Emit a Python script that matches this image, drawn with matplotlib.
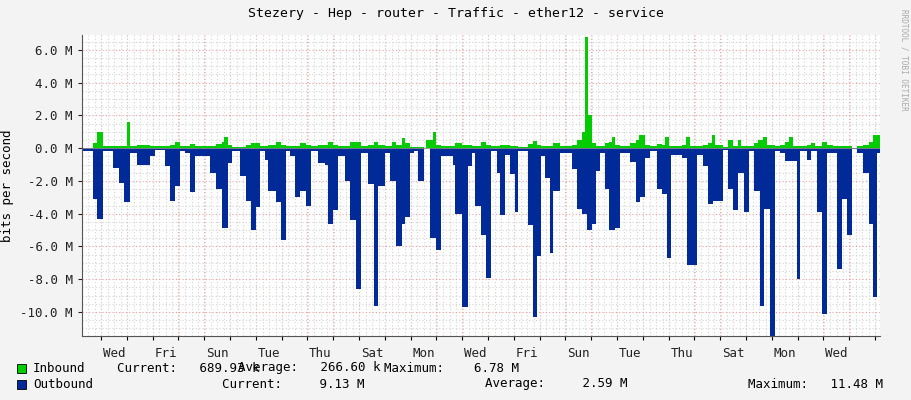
import numpy as np
import matplotlib
matplotlib.use("Agg")
import matplotlib.pyplot as plt
from matplotlib.ticker import MultipleLocator, FuncFormatter

# step data: (day since window start, value in Mbit/s)
out_days = [0, 0.43, 0.58, 0.81, 1.2, 1.43, 1.63, 1.86, 2.13, 2.64, 2.83, 3.22, 3.41, 3.6, 3.8, 3.99,
            4.19, 4.38, 4.96, 5.19, 5.43, 5.66, 5.81, 6.12, 6.36, 6.55, 6.74, 6.9, 7.09, 7.21, 7.52,
            7.71, 7.9, 8.06, 8.26, 8.45, 8.68, 8.88, 9.15, 9.42, 9.53, 9.73, 9.92, 10.19, 10.39, 10.62,
            10.81, 11.09, 11.32, 11.47, 11.74, 11.94, 12.17, 12.4, 12.52, 12.71, 12.87, 13.02, 13.26,
            13.49, 13.72, 13.91, 14.15, 14.38, 14.46, 14.73, 14.96, 15.12, 15.23, 15.47, 15.66, 15.85,
            16.09, 16.2, 16.4, 16.59, 16.78, 16.9, 17.29, 17.48, 17.64, 17.79, 17.95, 18.14, 18.26,
            18.53, 18.99, 19.19, 19.38, 19.57, 19.77, 19.92, 20.08, 20.27, 20.43, 20.66, 20.85, 21.24,
            21.47, 21.63, 21.82, 22.02, 22.29, 22.48, 22.67, 22.83, 23.26, 23.45, 23.84, 24.07, 24.26,
            24.46, 24.84, 25.04, 25.23, 25.43, 25.66, 25.85, 26.05, 26.28, 26.43, 26.67, 26.86, 27.05,
            27.25, 27.71, 27.83, 28.1, 28.26, 28.49, 28.68, 28.88, 29.26, 29.46, 29.65, 29.84, 30.04,
            30.27, 30.5, 30.66, 30.81]
out_vals = [-0.2, -3.1, -4.3, -0.2, -1.2, -2.1, -3.3, -0.3, -1.0, -0.5, -0.1, -1.1, -3.2, -2.3, -0.2, -0.3,
            -2.7, -0.5, -1.5, -2.5, -4.9, -0.9, -0.2, -1.7, -3.2, -5.0, -3.6, -0.2, -0.7, -2.6, -3.3,
            -5.6, -0.2, -0.5, -3.0, -2.6, -3.5, -0.2, -0.9, -1.0, -4.6, -3.8, -0.5, -2.0, -4.4, -8.6,
            -0.3, -2.2, -9.6, -2.3, -0.3, -2.0, -6.0, -4.6, -4.2, -0.3, -0.2, -2.0, 0.0,
            -5.5, -6.2, -0.5, -0.5, -1.0, -4.0, -9.7, -1.1, -0.3, -3.5, -5.3, -7.9, -0.2,
            -1.5, -4.1, -0.4, -1.6, -3.9, -0.2, -4.7, -10.3, -6.6, -0.5, -1.8, -6.4, -2.6,
            -0.3, -1.3, -3.7, -4.0, -5.0, -4.6, -1.4, -0.3, -2.5, -5.0, -4.9, -0.3, -0.85,
            -3.3, -3.0, -0.6, -0.2, -2.5, -2.8, -6.7, -0.4, -0.6, -7.1, -0.4, -1.1, -3.4,
            -3.2, -0.1, -2.5, -3.8, -1.5, -3.9, -0.2, -2.6, -9.6, -3.7, -11.5, -0.2, -0.3,
            -0.8, -8.0, -0.2, -0.7, -0.2, -3.9, -10.1, -0.3, -7.4, -3.1, -5.3, -0.05, -0.3,
            -1.5, -4.6, -9.1, -0.3]

in_days = [0, 0.43, 0.58, 0.81, 1.43, 1.63, 1.75, 1.86, 2.13, 2.64, 3.41, 3.6, 3.8, 4.19, 4.38, 5.19,
           5.43, 5.5, 5.66, 5.81, 6.36, 6.55, 6.9, 7.21, 7.52, 7.71, 7.9, 8.26, 8.45, 8.68, 8.88, 9.15,
           9.53, 9.73, 9.92, 10.19, 10.39, 10.62, 10.81, 11.09, 11.32, 11.47, 11.74, 12.0, 12.17, 12.4,
           12.52, 12.71, 13.26, 13.35, 13.6, 13.72, 13.91, 14.15, 14.46, 14.73, 15.12, 15.47, 15.66,
           15.85, 16.2, 16.59, 16.9, 17.29, 17.48, 17.64, 17.79, 18.26, 18.53, 18.99, 19.19, 19.38,
           19.5, 19.63, 19.77, 19.92, 20.27, 20.43, 20.55, 20.66, 20.85, 21.24, 21.47, 21.6, 21.82,
           22.02, 22.29, 22.48, 22.6, 22.75, 23.26, 23.4, 23.55, 24.07, 24.26, 24.4, 24.55, 24.84,
           25.04, 25.23, 25.43, 25.55, 26.05, 26.2, 26.4, 26.55, 26.86, 27.05, 27.25, 27.4, 27.55,
           28.1, 28.26, 28.4, 28.68, 28.88, 29.1, 29.84, 30.04, 30.27, 30.5, 30.66]
in_vals = [0.0, 0.3, 1.0, 0.1, 0.15, 0.1, 1.6, 0.1, 0.2, 0.15, 0.2, 0.35, 0.1, 0.25, 0.1, 0.25,
           0.35, 0.7, 0.2, 0.05, 0.2, 0.3, 0.1, 0.2, 0.35, 0.2, 0.1, 0.15, 0.3, 0.2, 0.1, 0.2,
           0.35, 0.2, 0.1, 0.15, 0.35, 0.4, 0.1, 0.2, 0.4, 0.2, 0.1, 0.4, 0.2, 0.6,
           0.3, 0.05, 0.0, 0.5, 1.0, 0.2, 0.1, 0.15, 0.3, 0.2, 0.15, 0.4, 0.2,
           0.1, 0.2, 0.15, 0.05, 0.25, 0.45, 0.2, 0.1, 0.3, 0.1, 0.2, 0.5, 1.0,
           6.8, 2.0, 0.3, 0.1, 0.3, 0.4, 0.7, 0.2, 0.1, 0.3, 0.5, 0.8, 0.2,
           0.1, 0.25, 0.2, 0.7, 0.1, 0.2, 0.7, 0.1, 0.2, 0.3, 0.8, 0.2, 0.05,
           0.5, 0.1, 0.5, 0.1, 0.3, 0.5, 0.7, 0.2, 0.1, 0.2, 0.4, 0.7, 0.1,
           0.2, 0.3, 0.1, 0.4, 0.2, 0.1, 0.0, 0.1, 0.2, 0.4, 0.8]

end_day = 30.93
first_midnight = 0.74
day_labels = ["Wed", "Fri", "Sun", "Tue", "Thu", "Sat", "Mon", "Wed", "Fri", "Sun", "Tue", "Thu",
              "Sat", "Mon", "Wed"]

plt.rcParams['font.family'] = ['DejaVu Sans Mono']
fig = plt.figure(figsize=(9.11, 4.0), dpi=100, facecolor="#f3f3f3")
ax = fig.add_axes([82/911, 64/400, 798/911, 301/400])
ax.set_facecolor("white")

def steps(days, vals):
    x = np.array(days + [end_day])
    y = np.array(vals + [vals[-1]])
    return x, y

x, y = steps(out_days, out_vals)
ax.fill_between(x, y, 0, step="post", color="#002a97", linewidth=0)
x, y = steps(in_days, in_vals)
ax.fill_between(x, y, 0, step="post", color="#00cc00", linewidth=0)

ax.set_xlim(0, end_day)
ax.set_ylim(-11.46, 6.9)

ax.yaxis.set_major_locator(MultipleLocator(2))
ax.yaxis.set_minor_locator(MultipleLocator(0.5))
ax.yaxis.set_major_formatter(FuncFormatter(lambda v, p: f"{v:.1f} M"))
mids = first_midnight + np.arange(0, 31)
ax.set_xticks(mids)
ax.set_xticklabels([])
ax.xaxis.set_minor_locator(MultipleLocator(0.25))
ax.set_axisbelow(True)
ax.grid(which="minor", color="#d4d4d4", linestyle=(0, (1, 2)), linewidth=0.8)
ax.grid(which="major", color="#f0a0a0", linestyle=(0, (1, 2)), linewidth=0.8)
label_pos = first_midnight + 0.5 + 2 * np.arange(len(day_labels))
for p, lab in zip(label_pos, day_labels):
    ax.text(p, -0.035, lab, transform=ax.get_xaxis_transform(), ha="center", va="top",
            fontsize=9, color="#222222")
ax.tick_params(axis="y", which="major", length=3, labelsize=9, colors="#222222")
ax.tick_params(axis="x", which="major", length=3)
ax.tick_params(which="minor", length=0)
for s in ["top", "right"]:
    ax.spines[s].set_visible(False)
ax.spines["left"].set_color("#555555")
ax.spines["bottom"].set_color("#555555")
ax.axhline(0, color="#8a8a8a", linewidth=0.6)
ax.set_ylabel("bits per second", fontsize=9)
ax.yaxis.set_label_coords(-68/798, 0.5)

fig.text(0.5, 1 - 14/400, "Stezery - Hep - router - Traffic - ether12 - service",
         ha="center", va="center", fontsize=9.5)
fig.text(904/911, 0.85, "RRDTOOL / TOBI OETIKER", rotation=270, ha="center", va="center",
         fontsize=5.5, color="#aaaaaa")

legend_rows = [
    ("Inbound", "#00cc00", [(117, "Current:   689.93 k"), (238, "Average:   266.60 k"),
                            (384, "Maximum:    6.78 M")]),
    ("Outbound", "#002a97", [(222, "Current:     9.13 M"), (485, "Average:     2.59 M"),
                             (748, "Maximum:   11.48 M")]),
]
for i, (name, col, parts) in enumerate(legend_rows):
    yy = 1 - (368 + 16 * i) / 400
    fig.patches.append(plt.Rectangle((17/911, yy - 5/400), 9/911, 9/400, transform=fig.transFigure,
                                     facecolor=col, edgecolor="black", linewidth=0.6))
    fig.text(33/911, yy, name, va="center", fontsize=9)
    for px, txt in parts:
        fig.text(px/911, yy, txt, va="center", fontsize=9)

fig.savefig("out.png", dpi=100, facecolor=fig.get_facecolor())
